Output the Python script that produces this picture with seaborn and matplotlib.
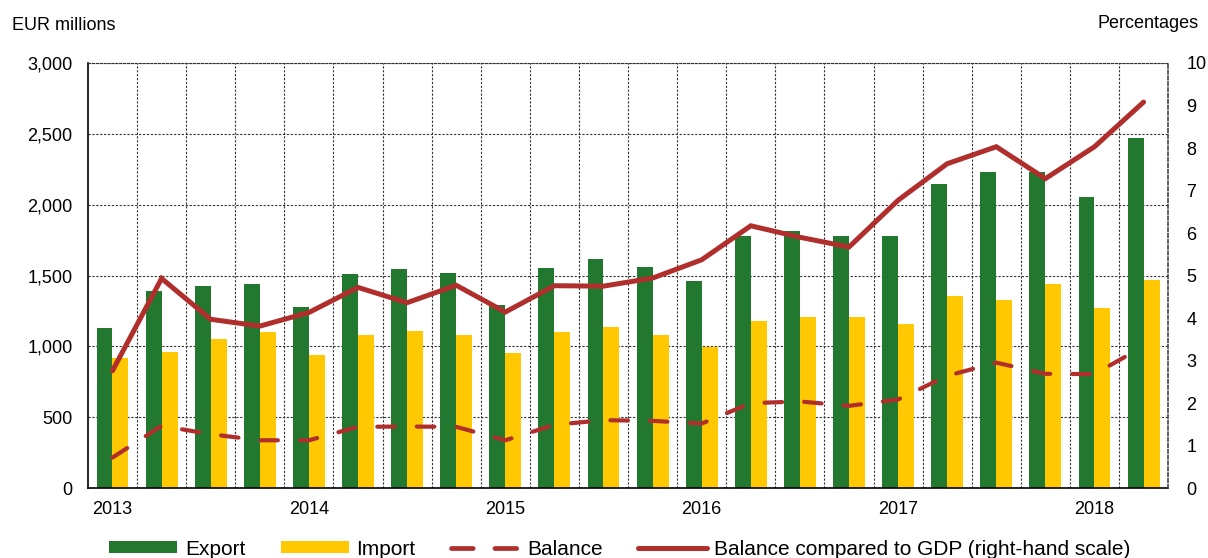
import numpy as np
import pandas as pd
import matplotlib
matplotlib.use("Agg")
import matplotlib.pyplot as plt
from matplotlib.patches import Patch
from matplotlib.lines import Line2D
from matplotlib.ticker import FuncFormatter, FixedLocator
import seaborn as sns

# quarterly data 2013Q1 - 2018Q2
quarters = ["2013Q1", "2013Q2", "2013Q3", "2013Q4",
            "2014Q1", "2014Q2", "2014Q3", "2014Q4",
            "2015Q1", "2015Q2", "2015Q3", "2015Q4",
            "2016Q1", "2016Q2", "2016Q3", "2016Q4",
            "2017Q1", "2017Q2", "2017Q3", "2017Q4",
            "2018Q1", "2018Q2"]
export = [1130, 1390, 1427, 1441, 1276, 1512, 1545, 1519, 1292, 1550, 1620, 1560,
          1458, 1776, 1814, 1781, 1778, 2149, 2229, 2229, 2057, 2472]
imports = [917, 962, 1050, 1101, 939, 1083, 1108, 1078, 953, 1099, 1137, 1080,
           998, 1182, 1205, 1210, 1156, 1358, 1330, 1441, 1269, 1465]
balance = [215, 439, 380, 337, 337, 432, 434, 432, 337, 446, 479, 474,
           455, 599, 611, 580, 625, 792, 885, 806, 804, 1000]
gdp_ratio = [2.76, 4.93, 3.97, 3.81, 4.13, 4.72, 4.36, 4.77, 4.14, 4.76, 4.75, 4.94,
             5.37, 6.17, 5.90, 5.67, 6.77, 7.63, 8.03, 7.28, 8.03, 9.08]
year_labels = ["2013", "2014", "2015", "2016", "2017", "2018"]

green = "#23782F"
yellow = "#FFC800"
red = "#B02E2C"

plt.rcParams["font.family"] = ["Liberation Sans", "DejaVu Sans"]

bars = pd.DataFrame({
    "quarter": quarters * 2,
    "series": ["Export"] * len(quarters) + ["Import"] * len(quarters),
    "value": export + imports,
})
pos = np.arange(len(quarters))

fig = plt.figure(figsize=(12.08, 5.58), dpi=100)
ax = fig.add_axes([0.0728, 0.1254, 0.8942, 0.7617])
ax.set_axisbelow(True)

sns.barplot(data=bars, x="quarter", y="value", hue="series",
            palette={"Export": green, "Import": yellow}, width=0.65,
            linewidth=0, saturation=1, legend=False, ax=ax)
sns.lineplot(x=pos, y=balance, color=red, linewidth=3.0, ax=ax,
             dashes=[(4.2, 5.3)], style=[0] * len(pos), legend=False,
             dash_capstyle="round")

ax.set_xlim(-0.5, len(quarters) - 0.5)
ax.set_ylim(0, 3000)
ax.set_yticks(np.arange(0, 3001, 500))
ax.yaxis.set_major_formatter(FuncFormatter(lambda v, p: f"{int(v):,}"))
ax.set_xticks(pos[::4])
ax.set_xticklabels(year_labels)
ax.xaxis.set_minor_locator(FixedLocator(np.arange(0.5, len(quarters) - 1, 1)))
ax.set_xlabel("")
ax.set_ylabel("")
ax.tick_params(axis="both", which="both", length=0, labelsize=13)
ax.tick_params(axis="y", pad=11)
ax.tick_params(axis="x", pad=9)
ax.grid(axis="y", which="major", linestyle=(0, (2, 1.5)), color="#333333", linewidth=0.8)
ax.grid(axis="x", which="minor", linestyle=(0, (2, 1.5)), color="#333333", linewidth=0.8)
ax.grid(axis="x", which="major", visible=False)
for s in ["left", "bottom"]:
    ax.spines[s].set_color("black")
    ax.spines[s].set_linewidth(1.2)
ax.spines["top"].set_linestyle((0, (2, 1.5)))
ax.spines["top"].set_color("#333333")
ax.spines["top"].set_linewidth(0.8)
ax.spines["right"].set_visible(False)

ax2 = ax.twinx()
sns.lineplot(x=pos, y=gdp_ratio, color=red, linewidth=3.6, ax=ax2,
             solid_capstyle="round", solid_joinstyle="miter")
ax2.set_ylim(0, 10)
ax2.set_yticks(np.arange(0, 11, 1))
ax2.tick_params(axis="y", length=0, labelsize=13, pad=13)
ax2.set_ylabel("")
ax2.spines["right"].set_linestyle((0, (2, 1.5)))
ax2.spines["right"].set_color("#444444")
ax2.spines["right"].set_linewidth(1.2)
for s in ["left", "top", "bottom"]:
    ax2.spines[s].set_visible(False)

fig.text(0.010, 0.955, "EUR millions", fontsize=13, va="center", ha="left")
fig.text(0.992, 0.958, "Percentages", fontsize=13, va="center", ha="right")

handles = [
    Patch(facecolor=green, edgecolor="none"),
    Patch(facecolor=yellow, edgecolor="none"),
    Line2D([], [], color=red, linewidth=3.4, linestyle=(0, (4.6, 4.6)), dash_capstyle="round"),
    Line2D([], [], color=red, linewidth=3.6, solid_capstyle="round"),
]
labels = ["Export", "Import", "Balance", "Balance compared to GDP (right-hand scale)"]
fig.legend(handles, labels, loc="center", bbox_to_anchor=(0.513, 0.016), ncol=4,
           frameon=False, fontsize=15, handlelength=3.3, handleheight=0.5,
           handletextpad=0.35, columnspacing=1.7)

fig.savefig("out.png", dpi=100)
